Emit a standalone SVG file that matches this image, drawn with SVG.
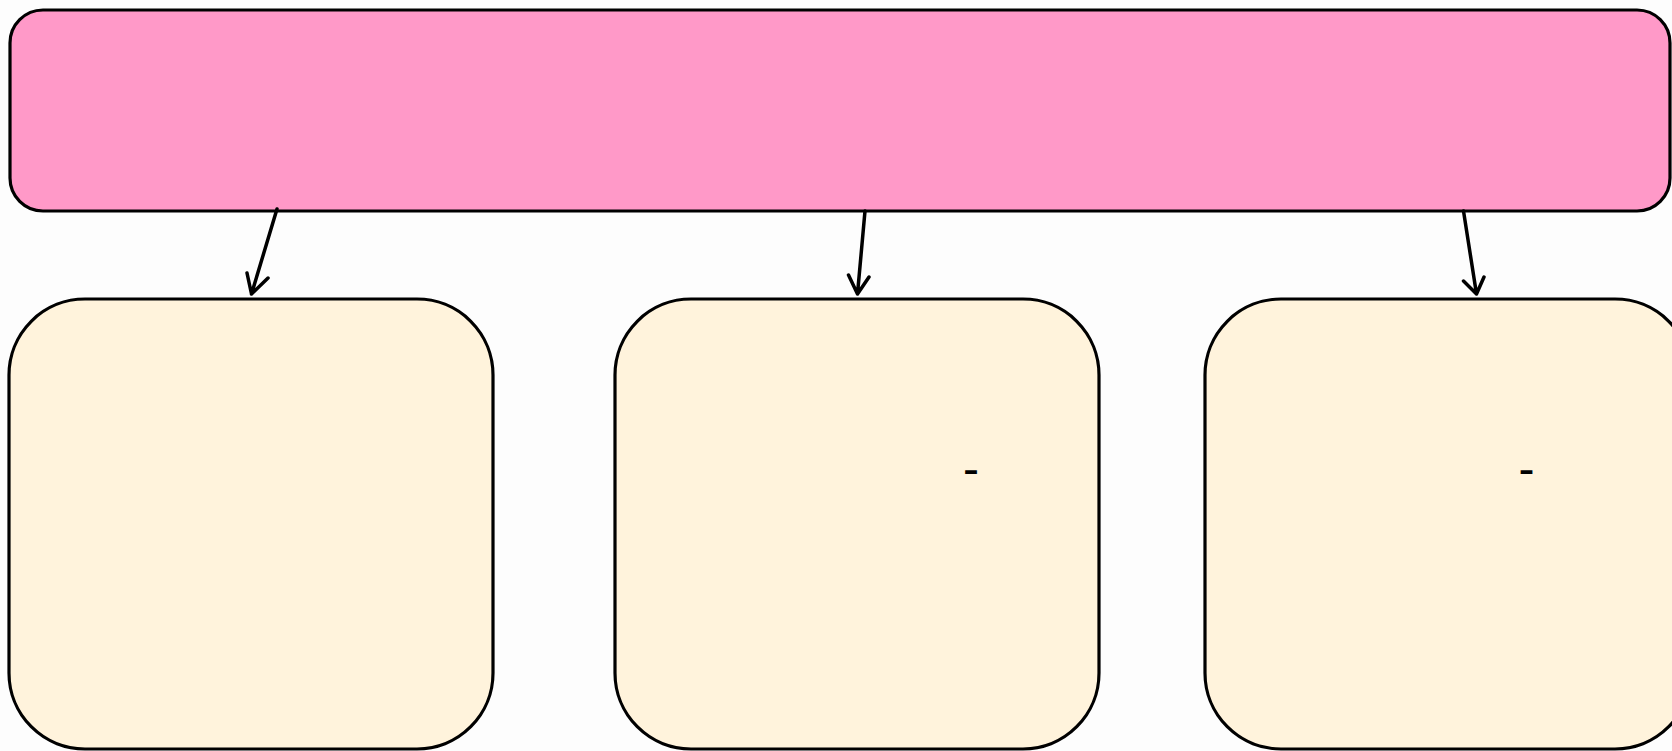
<svg xmlns="http://www.w3.org/2000/svg" width="1672" height="751" viewBox="0 0 1672 751">
<defs>
<style>
.node{stroke:#000;stroke-width:3.2}
.top{fill:#FF99C8}
.sub{fill:#FFF3DC}
.edge{fill:none;stroke:#000;stroke-width:3.5;stroke-linecap:round;stroke-linejoin:round}
.lbl{font-family:"Liberation Sans",Arial,sans-serif;font-size:48px;fill:#000}
</style>
</defs>
<rect width="1672" height="751" fill="#FDFDFD"/>
<g id="root"><rect class="node top" x="10" y="10" width="1660" height="201" rx="33" ry="33"/></g>
<g id="child1"><rect class="node sub" x="9" y="299" width="484" height="450" rx="76" ry="76"/></g>
<g id="child2"><rect class="node sub" x="615" y="299" width="484" height="450" rx="76" ry="76"/><text class="lbl" x="963" y="485">-</text></g>
<g id="child3"><rect class="node sub" x="1205" y="299" width="486" height="450" rx="76" ry="76"/><text class="lbl" x="1518.6" y="485">-</text></g>
<g id="connectors">
<path class="edge" d="M277 209 L251.5 294 M247 273 L251.5 294 L268 278"/>
<path class="edge" d="M865 211 L857.5 294 M848.5 275 L857.5 294 L869 277"/>
<path class="edge" d="M1463.5 211 L1476.5 294 M1463.5 281 L1476.5 294 L1484 277"/>
</g>
</svg>
